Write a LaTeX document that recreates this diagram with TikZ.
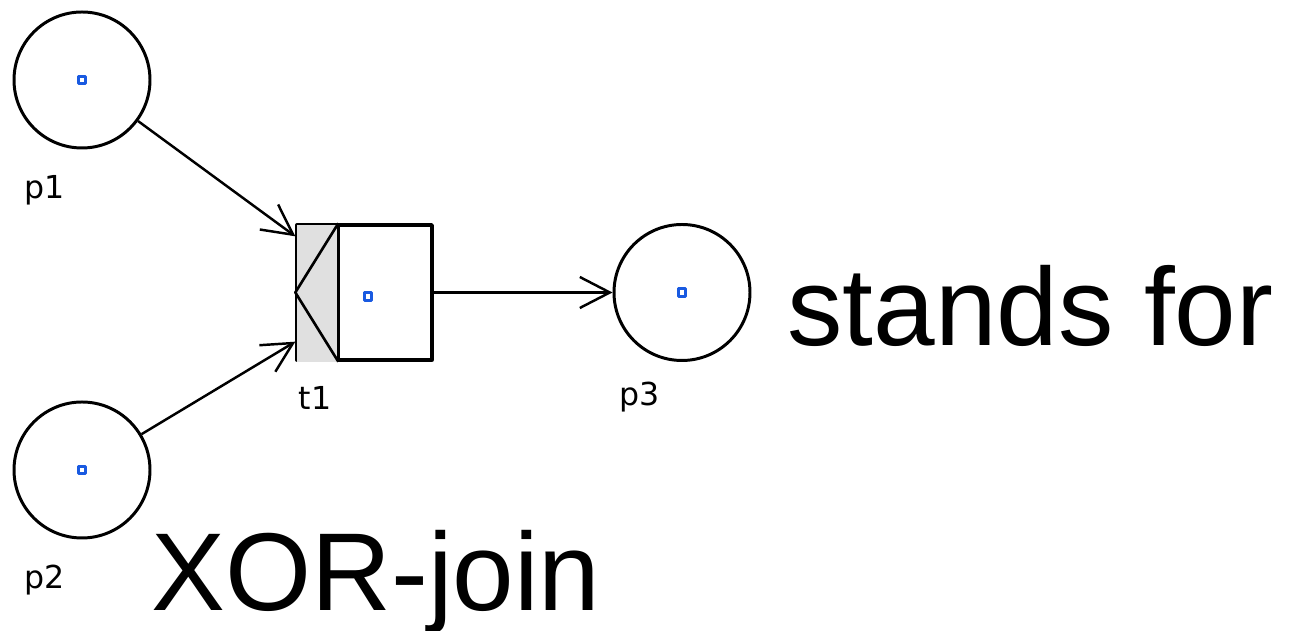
\documentclass[tikz,border=0pt]{standalone}
\usepackage{fontspec}
\setmainfont{Liberation Sans}
\newfontfamily\lblfont{DejaVu Sans}
\usetikzlibrary{positioning, arrows.meta, calc}
\definecolor{tokblue}{RGB}{25,90,225}

\begin{document}
\begin{tikzpicture}[on grid, line join=round,
        place/.style={circle, draw, line width=1.7pt, minimum size=2.72cm, inner sep=0pt},
        trans/.style={rectangle, draw, line width=1.9pt, minimum size=2.7cm, inner sep=0pt},
        tok/.style={rectangle, draw=tokblue, fill=white, line width=1.5pt, minimum size=0.15cm, inner sep=0pt},
        lbl/.style={font=\lblfont\fontsize{18}{20}\selectfont},
        big/.style={font=\fontsize{63}{70}\selectfont, inner sep=0pt, anchor=base west},
        arc/.style={-{Straight Barb[length=0.6cm,width=0.62cm]}, line width=1.4pt}]
        \useasboundingbox (0,0) rectangle (25.82,12.62);
        % places and transition
        \node[place] (p1) at (1.64,11.02) {};
        \node[place] (p2) [below=7.8cm of p1] {};
        \node[trans] (t1) [below right=4.25cm and 5.65cm of p1] {};
        \node[place] (p3) [right=6.35cm of t1] {};
        % xor join part of t1
        \coordinate (t1divtop) at ($(t1.north west)+(0.86,0)$);
        \coordinate (t1divbot) at ($(t1.south west)+(0.86,0)$);
        \fill[black!12] ($(t1.north west)+(0.95pt,-0.95pt)$) rectangle (t1divbot);
        \draw[line width=1.9pt] (t1divtop) -- (t1divbot);
        \draw[line width=1.5pt] (t1divtop) -- (t1.west) -- (t1divbot);
        % markers
        \node[tok] (p1tok) at (p1) {};
        \node[tok] (p2tok) at (p2) {};
        \node[tok] (p3tok) at (p3) {};
        \node[tok] (t1tok) at ($(t1.center)+(0.07,-0.08)$) {};
        % arcs
        \coordinate (t1in1) at ($(t1.north west)+(0,-0.26)$);
        \coordinate (t1in2) at ($(t1.south west)+(0,0.4)$);
        \draw[arc] (p1) -- (t1in1);
        \draw[arc] (p2) -- (t1in2);
        \draw[arc] (t1) -- (p3);
        % labels
        \node[lbl] (p1lbl) at ($(p1)+(-0.74,-2.2)$) {p1};
        \node[lbl] (p2lbl) at ($(p2)+(-0.74,-2.2)$) {p2};
        \node[lbl] (t1lbl) at ($(t1)+(-0.99,-2.11)$) {t1};
        \node[lbl] (p3lbl) at ($(p3)+(-0.84,-2.1)$) {p3};
        \node[big] (standsfor) at (15.74,5.70) {stands for};
        \node[big] (xorjoin) at (3.02,0.40) {XOR-join};
\end{tikzpicture}
\end{document}
